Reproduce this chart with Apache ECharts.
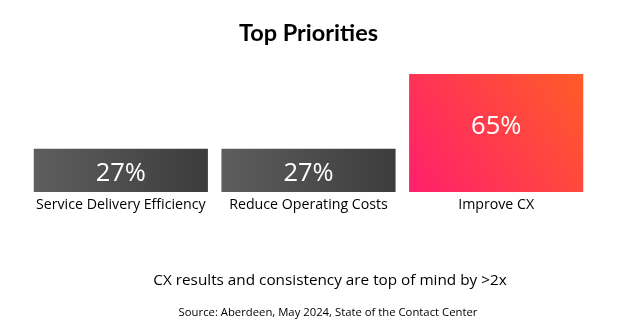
<!DOCTYPE html>
<html><head><meta charset="utf-8">
<script src="https://cdn.jsdelivr.net/npm/echarts@6/dist/echarts.min.js"></script>
<style>html,body{margin:0;padding:0;background:#fff}#c{width:617px;height:332px}</style>
</head><body><div id="c"></div>
<script>
var categories = ['Service Delivery Efficiency', 'Reduce Operating Costs', 'Improve CX'];
var values = [27, 27, 65];
var titleText = 'Top Priorities';
var subText = 'CX results and consistency are top of mind by >2x';
var sourceText = 'Source: Aberdeen, May 2024, State of the Contact Center';

var grayGrad = new echarts.graphic.LinearGradient(0, 0, 1, 0, [
  {offset: 0, color: '#5e5e5e'}, {offset: 1, color: '#3c3c3c'}]);
var hotGrad = new echarts.graphic.LinearGradient(0, 1, 1, 0, [
  {offset: 0, color: '#ff1f6c'}, {offset: 1, color: '#ff5c27'}]);
var labelPos = [['50%', '57%'], ['50%', '57%'], ['50%', '44.5%']];
var data = values.map(function (v, i) {
  return {
    value: v,
    itemStyle: {color: v === Math.max.apply(null, values) ? hotGrad : grayGrad},
    label: {position: labelPos[i]}
  };
});
var chart = echarts.init(document.getElementById('c'));
chart.setOption({
  animation: false,
  title: [
    {text: titleText, left: 'center', top: 16, textStyle: {fontFamily: 'Lato', fontWeight: 'bold', fontSize: 23.5, color: '#000'}},
    {text: subText, left: 325, textAlign: 'center', top: 268, textStyle: {fontFamily: 'Open Sans', fontWeight: 'normal', fontSize: 15.3, color: '#000'}},
    {text: sourceText, left: 323, textAlign: 'center', top: 302, textStyle: {fontFamily: 'Open Sans', fontWeight: 'normal', fontSize: 11.3, color: '#000'}}
  ],
  grid: {left: 27, right: 27, top: 74, bottom: 140},
  xAxis: {
    type: 'category', data: categories,
    axisLine: {show: false}, axisTick: {show: false},
    axisLabel: {color: '#000', fontFamily: 'Open Sans', fontSize: 14.2, margin: 6, interval: 0}
  },
  yAxis: {type: 'value', min: 5, max: 65, show: false, splitLine: {show: false}},
  series: [{
    type: 'bar', data: data, barWidth: '92.8%',
    label: {show: true, formatter: '{c}%', color: '#fff', fontFamily: 'Open Sans', fontSize: 25.5, align: 'center', verticalAlign: 'middle'}
  }]
});
</script></body></html>
